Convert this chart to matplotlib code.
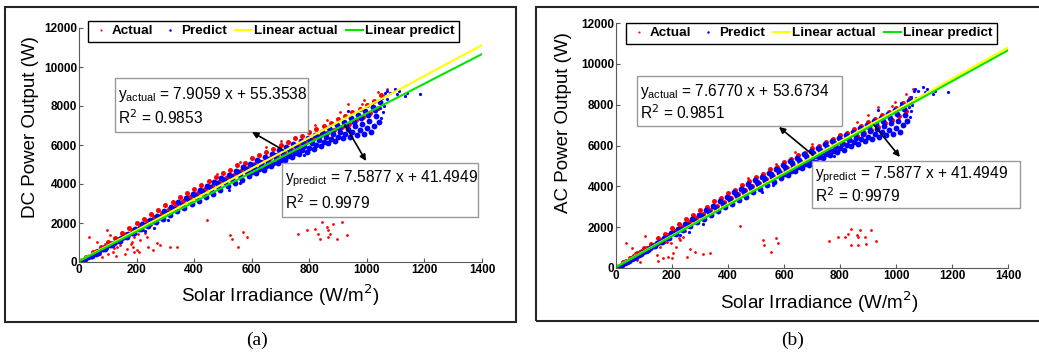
import numpy as np
import matplotlib.pyplot as plt
from matplotlib.lines import Line2D
from matplotlib.patches import Rectangle

plt.rcParams['font.family'] = ['Liberation Sans', 'DejaVu Sans']
plt.rcParams['mathtext.fontset'] = 'custom'

# ---- data (irradiance W/m2, power W) ----
grid_a = [25, 50, 75, 100, 125, 150, 175, 200, 225, 250, 275, 300, 325, 350, 375, 400, 425, 450, 475, 500, 525,
          550, 575, 600, 625, 650, 675, 700, 725, 750, 775, 800, 825, 850, 875, 900, 925, 950, 975, 1000, 1025, 1050]
grid_b = [12, 37, 62, 87, 112, 137, 162, 187, 212, 237, 262, 287, 312, 337, 362, 387, 412, 437, 462, 487, 512,
          537, 562, 587, 612, 637, 662, 687, 712, 737, 762, 787, 812, 837, 862, 887, 912, 937, 962, 987, 1012, 1037]
grid_c = [20, 45, 70, 95, 120, 145, 170, 195, 220, 245, 270, 295, 320, 345, 370, 395, 420, 445, 470, 495, 520,
          545, 570, 595, 620, 645, 670, 695, 720, 745, 770, 795, 820, 845, 870, 895, 920, 945, 970, 995, 1020, 1045]
grid_d = [8, 33, 58, 83, 108, 133, 158, 183, 208, 233, 258, 283, 308, 333, 358, 383, 408, 433, 458, 483, 508,
          533, 558, 583, 608, 633, 658, 683, 708, 733, 758, 783, 808, 833, 858, 883, 908, 933, 958, 983, 1008, 1033]
grid_e = [16, 41, 66, 91, 116, 141, 166, 191, 216, 241, 266, 291, 316, 341, 366, 391, 416, 441, 466, 491, 516,
          541, 566, 591, 616, 641, 666, 691, 716, 741, 766, 791, 816, 841, 866, 891, 916, 941, 966, 991, 1016, 1041]
grid_f = [404, 429, 454, 479, 504, 529, 554, 579, 604, 629, 654, 679, 704, 729, 754, 779, 804, 829, 854, 879,
          904, 929, 954, 979, 1004, 1029]
grid_g = [600, 625, 650, 675, 700, 725, 750, 775, 800, 825, 850, 875, 900, 925, 950, 975, 1000, 1025]

# DC actual (panel a), dense band
dc_top = [280, 520, 760, 1010, 1220, 1500, 1720, 2000, 2200, 2460, 2650, 2900, 3080, 3340, 3520, 3760, 3930, 4160,
          4350, 4580, 4730, 4960, 5100, 5320, 5470, 5660, 5800, 6010, 6130, 6340, 6480, 6660, 6800, 6990, 7130, 7350,
          7480, 7690, 7830, 8060, 8280, 8560]
dc_mid = [100, 330, 560, 780, 1000, 1180, 1420, 1640, 1860, 2080, 2290, 2500, 2710, 2930, 3130, 3320, 3530, 3720,
          3900, 4110, 4290, 4460, 4650, 4820, 5010, 5150, 5330, 5500, 5650, 5820, 5980, 6130, 6300, 6440, 6620, 6760,
          6940, 7080, 7260, 7420, 7650, 7900]
# DC actual, sparse points
dc_out_x = [907, 936, 982, 1069, 1040, 1060, 990, 860, 820, 700, 650, 560, 480,
            36, 61, 98, 108, 131, 102, 44, 73, 119, 142, 166, 189, 200, 212, 223, 235, 171, 183, 258, 281, 316, 339,
            206, 241, 446, 525, 530, 553, 582, 571, 762, 791, 820, 831, 843, 860, 866, 872, 884, 866, 837, 895, 912,
            930, 866, 884, 60, 80, 150, 190, 230, 250, 180, 120, 90, 160, 210, 240, 130, 270, 190]
dc_out_y = [7700, 8100, 8100, 8860, 8700, 8500, 8300, 7300, 7050, 6200, 5900, 5150, 4500,
            1282, 1026, 1622, 1367, 771, 430, 345, 430, 515, 856, 686, 771, 601, 1112, 1622, 1282, 1452, 1026, 601,
            856, 771, 771, 1452, 1793, 2133, 1367, 1197, 771, 1282, 1537, 1452, 1622, 1708, 1452, 2048, 1793, 1622,
            1452, 1963, 1282, 1197, 1197, 2048, 1367, 3581, 3666, 600, 250, 1200, 1300, 1500, 1900, 900, 700, 900,
            400, 500, 750, 300, 1000, 500]

# AC actual (panel b), dense band
ac_top = [270, 510, 740, 980, 1190, 1460, 1680, 1950, 2150, 2400, 2580, 2830, 3000, 3260, 3430, 3670, 3830, 4060,
          4240, 4470, 4610, 4840, 4970, 5190, 5330, 5520, 5650, 5860, 5970, 6180, 6310, 6490, 6630, 6810, 6950, 7170,
          7290, 7500, 7630, 7860, 8070, 8350]
ac_mid = [100, 320, 550, 760, 970, 1150, 1390, 1600, 1810, 2030, 2230, 2440, 2640, 2860, 3050, 3240, 3440, 3630,
          3800, 4010, 4180, 4350, 4530, 4700, 4880, 5020, 5200, 5360, 5510, 5670, 5830, 5980, 6140, 6280, 6450, 6590,
          6770, 6900, 7080, 7240, 7460, 7700]
# AC actual, sparse points
ac_out_x = [900, 936, 985, 1060, 1035, 1050, 995, 860, 700, 640, 570, 470,
            35, 56, 103, 68, 74, 50, 91, 121, 145, 169, 187, 204, 216, 228, 240, 198, 157, 181, 252, 282, 312, 335,
            442, 526, 528, 573, 579, 552, 761, 793, 817, 827, 841, 859, 865, 871, 889, 912, 930, 841, 865, 892, 847,
            870, 60, 85, 140, 175, 225, 245, 110, 200, 150, 265]
ac_out_y = [7500, 7900, 7950, 8750, 8500, 8300, 8150, 7150, 6050, 5700, 5100, 4400,
            1239, 961, 1565, 716, 389, 553, 880, 961, 634, 471, 553, 716, 1043, 1369, 1533, 1206, 1043, 1288, 553,
            798, 684, 716, 2055, 1369, 1124, 1451, 1206, 781, 1337, 1533, 1500, 1664, 1892, 1614, 1500, 1859, 1500,
            1859, 1337, 1124, 1124, 1157, 3525, 3600, 650, 300, 1150, 1250, 1450, 1800, 800, 500, 350, 950]

# predicted (same in both panels), dense band
pr_row1 = [150, 330, 560, 780, 1000, 1230, 1460, 1700, 1930, 2150, 2380, 2620, 2820, 3060, 3280, 3480, 3700, 3880,
           4090, 4300, 4480, 4670, 4860, 5030, 5220, 5370, 5560, 5720, 5880, 6050, 6200, 6370, 6520, 6680, 6850, 7020,
           7180, 7360, 7520, 7720, 7950, 8200]
pr_row2 = [60, 240, 430, 650, 850, 1080, 1270, 1480, 1700, 1900, 2110, 2320, 2530, 2720, 2930, 3130, 3330, 3510,
           3700, 3900, 4090, 4270, 4450, 4630, 4800, 4970, 5140, 5310, 5470, 5640, 5790, 5950, 6090, 6250, 6390, 6550,
           6690, 6830, 6960, 7080, 7220, 7490]
pr_row3 = [100, 290, 480, 690, 880, 1080, 1280, 1480, 1670, 1860, 2040, 2230, 2410, 2590, 2780, 2980, 3140, 3340,
           3500, 3700, 3880, 4050, 4230, 4400, 4560, 4740, 4900, 5060, 5210, 5380, 5530, 5660, 5800, 5960, 6080, 6220,
           6340, 6430, 6500, 6560, 6650, 7200]
pr_row4 = [3430, 3640, 3840, 4040, 4230, 4420, 4600, 4780, 4960, 5130, 5300, 5470, 5630, 5800, 5950, 6110, 6260,
           6420, 6570, 6740, 6890, 7050, 7200, 7360, 7520, 7780]
pr_row5 = [4590, 4760, 4930, 5100, 5250, 5420, 5580, 5730, 5870, 6020, 6160, 6300, 6430, 6560, 6660, 6760, 6850, 7000]
# predicted, sparse points
pr_out_x = [1050, 1055, 1058, 1045, 1052, 1063, 1069, 1098, 1104, 1132, 1138, 1185, 1070, 1017, 936, 1080, 1110,
            230, 260, 310, 560, 520, 780]
pr_out_y = [7400, 7700, 8000, 7900, 8400, 8690, 8770, 8860, 8600, 8520, 8690, 8600, 8350, 8100, 7750, 8650, 8750,
            1600, 1750, 2150, 4050, 3700, 5500]

# fit coefficients (slope, intercept) as printed
dc_fit = (7.9059, 55.3538)
ac_fit = (7.6770, 53.6734)
pr_fit = (7.5877, 41.4949)

pred_band_x = grid_c + grid_d + grid_e + grid_f + grid_g
pred_band_y = pr_row1 + pr_row2 + pr_row3 + pr_row4 + pr_row5

W, H = 1039, 354
fig = plt.figure(figsize=(W / 100, H / 100), dpi=100)
RED, BLUE, YEL, GRN = '#ff0000', '#0000ff', '#ffff00', '#00e600'


def frac(px, py):
    return px / W, 1 - py / H


def panel(rect, band_y, out_x, out_y, act_fit, txt_act, txt_r2a, txt_r2p, ylab, boxes, arrows, lab_pos, leg_xy, cap):
    ax = fig.add_axes(rect)
    # actual points (band drawn as overlapping dots like the dense cloud)
    ax.plot(grid_a + grid_b, band_y, ls='none', marker='o', ms=3.6, mew=0, color=RED)
    ax.plot(out_x, out_y, ls='none', marker='o', ms=2.0, mew=0, color=RED)
    ax.plot(pred_band_x, pred_band_y, ls='none', marker='o', ms=4.2, mew=0, color=BLUE)
    ax.plot(pr_out_x, pr_out_y, ls='none', marker='o', ms=2.3, mew=0, color=BLUE)
    xl = np.array([0, 1400])
    ax.plot(xl, act_fit[0] * xl + act_fit[1], color=YEL, lw=1.5)
    ax.plot(xl, pr_fit[0] * xl + pr_fit[1], color=GRN, lw=1.5)
    ax.set_xlim(0, 1400)
    ax.set_ylim(0, 12000)
    ax.set_xticks(range(0, 1401, 200))
    ax.set_yticks(range(0, 12001, 2000))
    for s in ['top', 'right']:
        ax.spines[s].set_visible(False)
    for s in ['left', 'bottom']:
        ax.spines[s].set_color('0.35')
        ax.spines[s].set_linewidth(0.8)
    ax.tick_params(direction='in', length=3, width=0.8, color='0.35', pad=1.5, labelsize=8.5)
    for t in ax.get_xticklabels() + ax.get_yticklabels():
        t.set_fontweight('bold')

    # equation boxes
    for (x0, y0, x1, y1), l1, l2 in zip(boxes, [txt_act, r'$\mathregular{y_{predict}}$ = 7.5877 x + 41.4949'],
                                        [txt_r2a, txt_r2p]):
        ax.add_patch(Rectangle((x0, y0), x1 - x0, y1 - y0, facecolor='white', edgecolor='0.6', lw=1,
                               clip_on=False, zorder=5))
        ax.text(x0 + 12, y1 - (y1 - y0) * 0.3, l1, fontsize=11.2, va='center', ha='left', zorder=6)
        ax.text(x0 + 12, y0 + (y1 - y0) * 0.27, l2, fontsize=11.2, va='center', ha='left', zorder=6)
    for head, tail in arrows:
        ax.annotate('', xy=head, xytext=tail, zorder=7,
                    arrowprops=dict(arrowstyle='-|>', color='k', lw=1.2, mutation_scale=9, shrinkA=0, shrinkB=0))

    # labels
    fig.text(*frac(*lab_pos[0]), ylab, rotation=90, ha='center', va='center', fontsize=13.5)
    fig.text(*frac(*lab_pos[1]), 'Solar Irradiance (W/m$^2$)', ha='center', va='center', fontsize=13.5)
    fig.text(*frac(*cap[1]), cap[0], ha='center', va='center', fontsize=14, family='Liberation Serif')

    handles = [Line2D([], [], ls='none', marker='o', ms=1.5, mew=0, color=RED),
               Line2D([], [], ls='none', marker='o', ms=1.8, mew=0, color=BLUE),
               Line2D([], [], color=YEL, lw=1.5),
               Line2D([], [], color=GRN, lw=1.5)]
    leg = ax.legend(handles, ['Actual', 'Predict', 'Linear actual', 'Linear predict'], ncol=4,
                    loc='upper left', bbox_to_anchor=frac(*leg_xy), bbox_transform=fig.transFigure,
                    borderaxespad=0, borderpad=0.3, handlelength=1.3, handletextpad=0.15, columnspacing=0.6,
                    fancybox=False, framealpha=1, edgecolor='k', prop={'weight': 'bold', 'size': 9.7})
    leg.get_frame().set_linewidth(1.0)
    leg.set_zorder(10)
    return ax


# panel (a)
panel([79 / W, 1 - 262 / H, 403 / W, 234 / H], dc_top + dc_mid, dc_out_x, dc_out_y, dc_fit,
      r'$\mathregular{y_{actual}}$ = 7.9059 x + 55.3538', r'R$^2$ = 0.9853', r'R$^2$ = 0.9979',
      'DC Power Output (W)',
      [(125, 6667, 795, 9436), (705, 2308, 1386, 5077)],
      [((601, 6667), (709, 5744)), ((997, 5179), (924, 7026))],
      [(31, 127), (280, 295)], (88, 21), ('(a)', (257, 340)))

# panel (b)
panel([616 / W, 1 - 268 / H, 392 / W, 245 / H], ac_top + ac_mid, ac_out_x, ac_out_y, ac_fit,
      r'$\mathregular{y_{actual}}$ = 7.6770 x + 53.6734', r'R$^2$ = 0.9851', r'R$^2$ = 0:9979',
      'AC Power Output (W)',
      [(75, 6955, 807, 9404), (700, 2939, 1443, 5241)],
      [((582, 6906), (703, 5535)), ((1014, 5437), (921, 7004))],
      [(563, 123), (819, 302)], (626, 23), ('(b)', (793, 340)))

# outer frames of the two sub-figures
for x0, y0, x1, y1 in [(5, 7, 516, 322), (536, 7, 1046, 321)]:
    fig.add_artist(Rectangle(frac(x0, y1), (x1 - x0) / W, (y1 - y0) / H, transform=fig.transFigure,
                             fill=False, edgecolor='0.15', lw=1.5))

fig.savefig('out.png', dpi=100)
